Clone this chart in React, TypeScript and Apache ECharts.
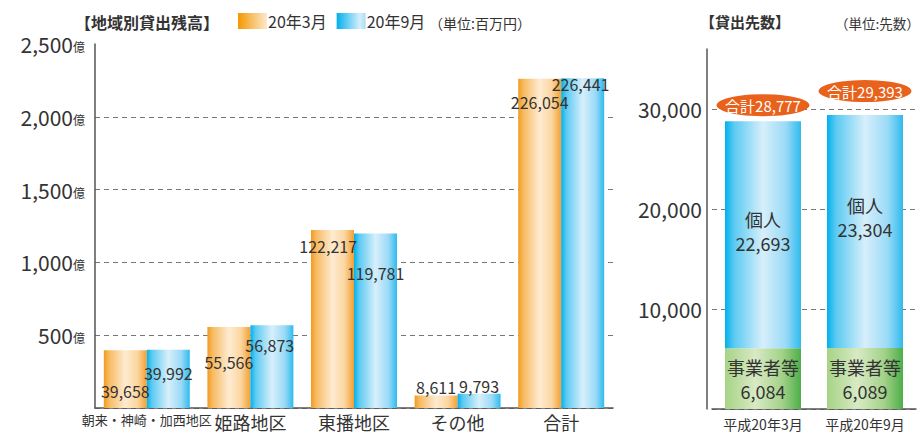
import React, { useEffect, useRef } from "react";
import * as echarts from "echarts";

// ---- data ----
const regions = ["朝来・神崎・加西地区", "姫路地区", "東播地区", "その他", "合計"];
const mar20 = [39658, 55566, 122217, 8611, 226054]; // 百万円
const sep20 = [39992, 56873, 119781, 9793, 226441]; // 百万円
const periods = ["平成20年3月", "平成20年9月"];
const business = [6084, 6089];
const individual = [22693, 23304];
const rightTicks = [10000, 20000, 30000];

// ---- label placement (style only) ----
const marLabelDy = [41, 35, 16, -8, 23];
const marLabelDx = ["50%", "50%", "40%", "50%", "50%"];
const sepLabelDy = [23, 20, 39, -8, 6];
const sepLabelDx = ["50%", "45%", "50%", "50%", "45%"];
const indivLabelDy = [110, 102];
const totalOffsetY = [-16, -24];

const FONT = '"Noto Sans CJK JP", "Noto Sans", sans-serif';
const fmt = (v: number) => v.toLocaleString("en-US");
const hg = (stops: [number, string][]) =>
  new echarts.graphic.LinearGradient(0, 0, 1, 0, stops.map(([offset, color]) => ({ offset, color })));

export default function App() {
  const ref = useRef<HTMLDivElement>(null);
  useEffect(() => {
    document.body.style.margin = "0";
    if (!ref.current) return;
    const chart = echarts.init(ref.current, null, { renderer: "svg" });
    const orange = hg([[0, "#F39A1E"], [0.12, "#F7BA62"], [0.5, "#FEEBD1"], [0.78, "#FBD6A0"], [1, "#F3A032"]]);
    const blue = hg([[0, "#00B0EC"], [0.12, "#5CCAF2"], [0.5, "#D7EFFB"], [0.8, "#9ADAF6"], [1, "#2FBBEE"]]);
    const green = hg([[0, "#A6D386"], [0.4, "#D8EAC4"], [0.75, "#A4D28A"], [1, "#4DAE48"]]);
    const totals = business.map((b, i) => b + individual[i]);

    const option: any = {
      animation: false,
      textStyle: { fontFamily: FONT },
      title: [
        { text: "【地域別貸出残高】", left: 70, top: 9, textStyle: { fontSize: 16, fontWeight: "bold", color: "#333", fontFamily: FONT } },
        { text: "（単位:百万円）", left: 424, top: 11, textStyle: { fontSize: 14, fontWeight: "normal", color: "#333", fontFamily: FONT } },
        { text: "【貸出先数】", left: 695, top: 9, textStyle: { fontSize: 15, fontWeight: "bold", color: "#333", fontFamily: FONT } },
        { text: "（単位:先数）", left: 830, top: 11, textStyle: { fontSize: 13.5, fontWeight: "normal", color: "#333", fontFamily: FONT } },
      ],
      legend: {
        left: 238,
        top: 13,
        padding: 0,
        itemWidth: 29,
        itemHeight: 16,
        itemGap: 10,
        textStyle: { fontSize: 16, color: "#333", fontFamily: FONT, padding: [0, 0, 0, -4] },
        data: [
          { name: "20年3月", icon: "rect", itemStyle: { color: hg([[0, "#F39800"], [1, "#FEE9CC"]]) } },
          { name: "20年9月", icon: "rect", itemStyle: { color: hg([[0, "#00B0EC"], [0.8, "#D5EEFA"], [1, "#A9DEF6"]]) } },
        ],
      },
      grid: [
        { left: 95, right: 309, top: 44, bottom: 26 },
        { left: 712, right: 6, top: 49, bottom: 25 },
      ],
      xAxis: [
        {
          type: "category",
          gridIndex: 0,
          data: regions.map((r, i) => (i === 0 ? { value: r, textStyle: { fontSize: 13 } } : r)),
          axisLine: { lineStyle: { color: "#555", width: 1.5 } },
          axisTick: { show: false },
          axisLabel: { fontSize: 18, color: "#333", margin: 5, interval: 0, fontFamily: FONT },
        },
        {
          type: "category",
          gridIndex: 1,
          data: periods,
          axisLine: { lineStyle: { color: "#555", width: 1.5 } },
          axisTick: { show: false },
          axisLabel: { fontSize: 14, color: "#333", margin: 8, interval: 0, fontFamily: FONT },
        },
      ],
      yAxis: [
        {
          type: "value",
          gridIndex: 0,
          min: 0,
          max: 250000,
          interval: 50000,
          axisLine: { show: true, lineStyle: { color: "#555", width: 1.5 } },
          axisTick: { show: false },
          splitLine: { show: true, showMaxLine: false, lineStyle: { color: "#777", type: [5, 4], width: 1 } },
          axisLabel: {
            margin: 10,
            formatter: (v: number) => (v === 0 ? "" : `{n|${fmt(v / 100)}}{u|億}`),
            rich: {
              n: { fontSize: 21, color: "#333", fontFamily: FONT },
              u: { fontSize: 12, color: "#333", fontFamily: FONT, padding: [5, 0, 0, 0] },
            },
          },
        },
        {
          type: "value",
          gridIndex: 1,
          min: 0,
          max: 36000,
          interval: 10000,
          offset: 5,
          axisLine: { show: true, lineStyle: { color: "#555", width: 1.5 } },
          axisTick: { show: false },
          splitLine: { show: true, showMaxLine: false, lineStyle: { color: "#777", type: [5, 4], width: 1 } },
          axisLabel: {
            margin: 5,
            fontSize: 21,
            color: "#333",
            fontFamily: FONT,
            formatter: (v: number) => (rightTicks.includes(v) ? fmt(v) : ""),
          },
        },
      ],
      series: [
        {
          name: "20年3月",
          type: "bar",
          xAxisIndex: 0,
          yAxisIndex: 0,
          barWidth: 43,
          barGap: "0%",
          itemStyle: { color: orange },
          data: mar20.map((v, i) => ({
            value: v,
            label: { show: true, position: [marLabelDx[i], marLabelDy[i]], align: "center", verticalAlign: "middle" },
          })),
          label: { show: true, fontSize: 16, color: "#333", fontFamily: FONT, formatter: (p: any) => fmt(p.value) },
        },
        {
          name: "20年9月",
          type: "bar",
          xAxisIndex: 0,
          yAxisIndex: 0,
          barWidth: 43,
          barGap: "0%",
          itemStyle: { color: blue },
          data: sep20.map((v, i) => ({
            value: v,
            label: { show: true, position: [sepLabelDx[i], sepLabelDy[i]], align: "center", verticalAlign: "middle" },
          })),
          label: { show: true, fontSize: 16, color: "#333", fontFamily: FONT, formatter: (p: any) => fmt(p.value) },
        },
        {
          name: "事業者等",
          type: "bar",
          xAxisIndex: 1,
          yAxisIndex: 1,
          stack: "count",
          barWidth: 76,
          itemStyle: { color: green },
          label: {
            show: true,
            position: "inside",
            fontSize: 18,
            lineHeight: 24,
            color: "#333",
            fontFamily: FONT,
            formatter: (p: any) => `事業者等\n${fmt(p.value)}`,
          },
          data: business,
        },
        {
          name: "個人",
          type: "bar",
          xAxisIndex: 1,
          yAxisIndex: 1,
          stack: "count",
          barWidth: 76,
          itemStyle: { color: blue },
          data: individual.map((v, i) => ({
            value: v,
            label: { show: true, position: ["50%", indivLabelDy[i]], align: "center", verticalAlign: "middle" },
          })),
          label: {
            show: true,
            fontSize: 18,
            lineHeight: 24,
            color: "#333",
            fontFamily: FONT,
            formatter: (p: any) => `個人\n${fmt(p.value)}`,
          },
        },
        {
          name: "合計",
          type: "scatter",
          xAxisIndex: 1,
          yAxisIndex: 1,
          symbol: "circle",
          symbolSize: [93, 22],
          itemStyle: { color: "#E9621C", opacity: 1 },
          data: totals.map((v, i) => ({ value: v, symbolOffset: [0, totalOffsetY[i]] })),
          label: {
            show: true,
            position: "inside",
            fontSize: 15,
            color: "#fff",
            fontFamily: FONT,
            formatter: (p: any) => `合計${fmt(p.value)}`,
          },
          z: 5,
        },
      ],
    };
    chart.setOption(option);
    return () => chart.dispose();
  }, []);
  return <div ref={ref} style={{ width: 922, height: 434 }} />;
}
